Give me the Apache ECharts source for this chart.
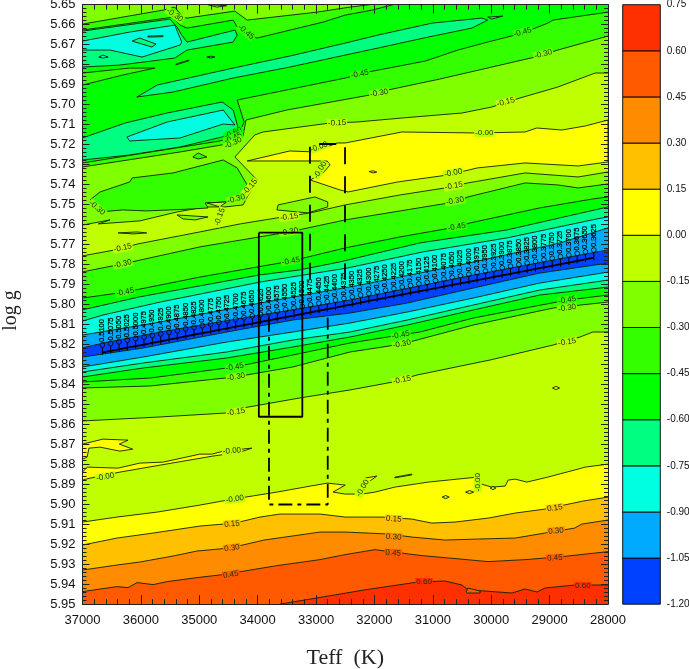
<!DOCTYPE html>
<html>
<head>
<meta charset="utf-8">
<style>html,body{margin:0;padding:0;background:#fff}#main{width:689px;height:669px}</style>
<script src="https://cdn.jsdelivr.net/npm/echarts@6/dist/echarts.min.js"></script>
</head>
<body>
<div id="main"></div>
<script>
// colour levels
var levels = [-1.2,-1.05,-0.9,-0.75,-0.6,-0.45,-0.3,-0.15,0,0.15,0.3,0.45,0.6,0.75];
var bandColors = ['#0040ff','#00aaff','#00ffe0','#00ff80','#00ff00','#33ff00','#80ff00','#bfff00','#ffff00','#ffc000','#ff8c00','#ff5a00','#ff3000'];
var C = {};
levels.slice(0,13).forEach(function(l,i){ C[l.toFixed(2)] = bandColors[i]; });

// contour lines, [Teff, log g]
var top030 = [[37000,5.6597],[35620,5.6527],[35420,5.6512],[35280,5.6562],[35210,5.6567],[34390,5.6532],[34180,5.6577],[32980,5.6537],[32420,5.6512],[32080,5.65]];
var top045 = [[37000,5.6627],[35450,5.6562],[35330,5.6602],[35210,5.6617],[34420,5.6577],[34340,5.6617],[34010,5.6667],[32880,5.6587],[32500,5.6552],[32040,5.6527],[31680,5.65]];
var tealUpper = [[37000,5.6632],[35500,5.6572],[35380,5.6612],[35300,5.6652],[35210,5.6687],[34390,5.6627],[34350,5.6652],[34420,5.6687],[35210,5.6727],[35420,5.6767],[36360,5.6802],[37000,5.6812]];
var cyanUpper = [[37000,5.6682],[36190,5.6637],[35420,5.6602],[35300,5.6687],[35330,5.6702],[35980,5.6762],[36530,5.6727],[37000,5.6727]];
var tealSpot1 = [[36150,5.6682],[36020,5.6667],[35740,5.6697],[35810,5.6712]];
var tealSpot2 = [[35880,5.6657],[35620,5.6655],[35620,5.6660],[35880,5.6662]];
var cyanSpot = [[36720,5.6762],[36650,5.6752],[36560,5.6762],[36650,5.6767]];
var dash1 = [[35400,5.6797],[35180,5.6777],[35180,5.6781],[35400,5.6801]];
var dash2 = [[34870,5.6762],[34800,5.6757],[34730,5.6762],[34800,5.6767]];
var tongue = [[37000,5.6842],[36190,5.6817],[35760,5.6817],[36310,5.6852],[37000,5.6902]];
var tealBand = [[36070,5.6962],[35720,5.6902],[34420,5.6817],[33450,5.6757],[32500,5.6692],[31940,5.6652],[31010,5.6592],[30160,5.6567],[30060,5.6577],[30330,5.6617],[31080,5.6662],[31940,5.6717],[32500,5.6752],[33450,5.6812],[34420,5.6867],[35450,5.6937]];
var tealTip = [[30060,5.6562],[29800,5.6557],[29990,5.6572]];
var tealLower = [[37000,5.7167],[36270,5.7092],[35550,5.7042],[34610,5.6987],[34420,5.7027],[34340,5.7112],[34440,5.7142],[34610,5.7162],[35330,5.7212],[36190,5.7252],[37000,5.7277]];
var cyanLower = [[36240,5.7162],[35550,5.7087],[34590,5.7027],[34390,5.7102],[34590,5.7097],[35330,5.7167],[36190,5.7182]];
var mid045 = [[37000,5.7292],[34650,5.7182],[34440,5.7162],[34300,5.7127],[34230,5.7087],[34270,5.7052],[34350,5.6977],[32500,5.6867],[32110,5.6837],[31130,5.6782],[30570,5.6727],[30060,5.6687],[29460,5.6642],[29030,5.6592],[28940,5.6577],[28000,5.6537]];
var mid030 = [[37000,5.7312],[35330,5.7237],[34420,5.7192],[34250,5.7157],[34200,5.7077],[33500,5.7027],[32080,5.6952],[31770,5.6927],[30880,5.6872],[29990,5.6812],[29250,5.6762],[28860,5.6727],[28000,5.6657]];
var diamond = [[35110,5.7262],[35020,5.7242],[34870,5.7262],[35020,5.7272]];
var mid015 = [[37000,5.7603],[36820,5.7593],[36530,5.7577],[36730,5.7597],[36020,5.7582],[35380,5.7537],[34900,5.7512],[34560,5.7512],[34250,5.7502],[34180,5.7462],[34100,5.7427],[34010,5.7377],[34390,5.7262],[34050,5.7152],[33910,5.7137],[32760,5.7092],[32300,5.7087],[31530,5.7067],[30500,5.7042],[29990,5.7012],[29510,5.6967],[28860,5.6912],[28220,5.6842],[28000,5.6842]];
var yellowCore = [[34180,5.7282],[33450,5.7232],[33020,5.7237],[32640,5.7192],[32500,5.7192],[31530,5.7137],[30240,5.7142],[29420,5.7137],[29220,5.7117],[28790,5.7127],[28390,5.7107],[28000,5.7077],[28000,5.7287],[28510,5.7307],[29420,5.7292],[30240,5.7317],[30740,5.7352],[31600,5.7387],[32450,5.7437],[32590,5.7427],[33100,5.7377],[32880,5.7342],[32760,5.7302],[32810,5.7282],[33100,5.7282]];
var centerIsland = [[36870,5.7477],[36700,5.7437],[36190,5.7387],[36150,5.7367],[35450,5.7342],[34590,5.7277],[34350,5.7317],[34130,5.7427],[34250,5.7462],[34470,5.7487],[34900,5.7492],[34850,5.7517],[35110,5.7522],[35900,5.7532],[36310,5.7527],[36700,5.7537]];
var spotA = [[34870,5.7492],[34530,5.7487],[34650,5.7512]];
var spotB = [[35380,5.7552],[34850,5.7562],[35070,5.7577],[35280,5.7572]];
var spotC = [[36390,5.7642],[36070,5.7637],[35900,5.7642],[36130,5.7647]];
var bump = [[33650,5.7502],[33020,5.7462],[32800,5.7487],[32800,5.7512],[33140,5.7542],[33670,5.7527]];
var up015 = [[37000,5.7757],[36440,5.7727],[36050,5.7697],[34990,5.7637],[34300,5.7597],[33670,5.7567],[33100,5.7542],[32500,5.7502],[31560,5.7452],[30790,5.7417],[30400,5.7392],[29420,5.7342],[28510,5.7362],[28000,5.7337]];
var up030 = [[37000,5.7837],[36310,5.7797],[34990,5.7712],[33460,5.7637],[32500,5.7577],[31560,5.7532],[30620,5.7487],[30400,5.7462],[29420,5.7392],[28860,5.7402],[28510,5.7417],[28000,5.7397]];
var up045 = [[37000,5.7968],[36270,5.7938],[34990,5.7863],[33430,5.7783],[32500,5.7717],[31560,5.7662],[30590,5.7612],[30360,5.7592],[29170,5.7517],[28260,5.7472],[28000,5.7462]];
var up060 = [[37000,5.8027],[36020,5.7962],[33960,5.7852],[33280,5.7827],[32590,5.7787],[31220,5.7692],[29730,5.7627],[28000,5.7512]];
var up075 = [[37000,5.8083],[36650,5.8053],[35670,5.7988],[33960,5.7888],[33220,5.7853],[32470,5.7818],[31170,5.7737],[29730,5.7667],[28190,5.7572],[28000,5.7562]];
var up090 = [[37000,5.8153],[35670,5.8088],[33960,5.7993],[32250,5.7903],[30540,5.7803],[28820,5.7692],[28000,5.7617]];
var up105 = [[37000,5.8218],[36650,5.8193],[35670,5.8138],[33960,5.8053],[33220,5.8018],[32420,5.7978],[30310,5.7853],[28190,5.7737],[28000,5.7727]];
var teffLow = [37000,35960,34530,33400,32420,31440,30310,29170,28000];
var low105 = [5.8263,5.8218,5.8138,5.8078,5.8043,5.7993,5.7918,5.7843,5.7793];
var low090 = [5.8313,5.8263,5.8188,5.8138,5.8093,5.8038,5.7968,5.7893,5.7838];
var low075 = [5.8338,5.8293,5.8238,5.8178,5.8138,5.8078,5.8003,5.7928,5.7878];
var low060 = [5.8363,5.8318,5.8268,5.8213,5.8163,5.8103,5.8028,5.7953,5.7913];
var low045 = [[37000,5.8388],[35840,5.8368],[34390,5.8313],[33400,5.8253],[32420,5.8193],[31560,5.8153],[31220,5.8138],[30310,5.8068],[28700,5.7978],[28000,5.7953]];
var low030 = [[37000,5.8418],[35840,5.8408],[34390,5.8363],[33400,5.8313],[32420,5.8238],[31530,5.8198],[31270,5.8178],[30310,5.8103],[28940,5.8018],[28000,5.7988]];
var low015 = [[37000,5.8583],[35670,5.8563],[34530,5.8543],[34250,5.8518],[33280,5.8468],[32420,5.8428],[31680,5.8388],[31270,5.8353],[30020,5.8278],[28940,5.8203],[28480,5.8163],[28260,5.8138],[28000,5.8138]];
var zero = [[37000,5.9089],[36410,5.9064],[35720,5.9039],[34990,5.9004],[34420,5.8974],[33670,5.8939],[33100,5.8909],[32800,5.8894],[32500,5.8904],[32710,5.8939],[32500,5.8949],[32210,5.8949],[31990,5.8939],[31650,5.8914],[31080,5.8889],[30240,5.8864],[30230,5.8894],[29990,5.8914],[29760,5.8909],[29710,5.8879],[29590,5.8874],[29390,5.8889],[29030,5.8864],[28450,5.8819],[28390,5.8814],[28000,5.8799]];
var pos015 = [[37000,5.9204],[36410,5.9169],[35790,5.9144],[34990,5.9109],[34390,5.9094],[33960,5.9064],[33620,5.9049],[32930,5.9049],[32500,5.9064],[31870,5.9064],[31360,5.9074],[31020,5.9094],[30620,5.9089],[30050,5.9069],[29590,5.9044],[29080,5.9024],[28430,5.8984],[28000,5.8964]];
var pos030 = [[37000,5.9329],[36410,5.9304],[36020,5.9289],[35450,5.9259],[35040,5.9234],[34480,5.9219],[33890,5.9179],[32930,5.9139],[32500,5.9139],[31750,5.9149],[31360,5.9164],[30790,5.9179],[30230,5.9174],[29590,5.9169],[29080,5.9144],[28570,5.9119],[28450,5.9099],[28000,5.9079]];
var pos045 = [[37000,5.9437],[36410,5.9412],[36220,5.9417],[36065,5.9392],[35790,5.9402],[35550,5.9387],[35040,5.9367],[34595,5.9352],[33670,5.9307],[32935,5.9277],[32505,5.9252],[31990,5.9227],[31185,5.9257],[30790,5.9267],[30055,5.9287],[29420,5.9277],[28785,5.9262],[28000,5.9237]];
var pos060 = [[33620,5.95],[32505,5.9445],[32160,5.9428],[31255,5.9389],[30790,5.9384],[30500,5.9404],[30400,5.9428],[29645,5.9444],[29420,5.9424],[29215,5.9439],[29080,5.9419],[28565,5.9404],[28000,5.9404]];
var yellowA = [[37000,5.8699],[36650,5.8674],[36220,5.8679],[36370,5.8699],[36140,5.8724],[36360,5.8734],[36700,5.8714],[36890,5.8719],[36920,5.8764],[37000,5.8774]];
var yellowB = [[37000,5.8839],[36920,5.8814],[36390,5.8819],[36020,5.8794],[35620,5.8789],[34990,5.8749],[34780,5.8749],[34590,5.8734],[34100,5.8719],[34300,5.8739],[34770,5.8759],[35670,5.8804],[36360,5.8839],[36870,5.8869],[37000,5.8879]];
var yellowC = [[31650,5.8864],[31360,5.8849],[31360,5.8853],[31650,5.8868]];
var yellowD = [[32160,5.8869],[31960,5.8859],[32080,5.8884],[32160,5.8899]];
var spotD = [[30840,5.8964],[30780,5.8956],[30720,5.8964],[30780,5.8972]];
var spotE = [[30440,5.8939],[30370,5.8931],[30300,5.8939],[30370,5.8947]];
var spotF = [[30020,5.8919],[29970,5.8911],[29920,5.8919],[29970,5.8927]];
var spotG = [[28950,5.8418],[28890,5.8410],[28830,5.8418],[28890,5.8426]];
var spotH = [[30430,5.9439],[30400,5.9419],[30190,5.9434],[30190,5.9444],[30410,5.9444]];
var spotI = [[34850,5.65],[34530,5.6505],[34700,5.6512]];
var spotJ = [[32090,5.7335],[32025,5.7331],[31960,5.7338],[32025,5.7342]];

// labelled track
var trackTeff = [36660,36517,36375,36232,36089,35947,35804,35661,35519,35376,35233,35091,34948,34805,34663,34520,34377,34235,34092,33949,33807,33664,33521,33379,33236,33094,32951,32808,32666,32523,32380,32238,32095,31952,31810,31667,31524,31382,31239,31096,30954,30811,30668,30526,30383,30240,30098,29955,29812,29670,29527,29384,29242,29099,28956,28814,28671,28528,28386,28243];
var trackLogg = [5.8203,5.8195,5.8187,5.8179,5.8171,5.8163,5.8155,5.8147,5.8139,5.8131,5.8122,5.8114,5.8106,5.8098,5.8090,5.8082,5.8074,5.8066,5.8058,5.8050,5.8042,5.8034,5.8026,5.8018,5.8010,5.8002,5.7994,5.7986,5.7978,5.7970,5.7962,5.7953,5.7945,5.7937,5.7929,5.7921,5.7913,5.7905,5.7897,5.7889,5.7881,5.7873,5.7865,5.7857,5.7849,5.7841,5.7833,5.7825,5.7817,5.7809,5.7801,5.7793,5.7785,5.7777,5.7769,5.7761,5.7753,5.7745,5.7737,5.7728];
var trackText = ['0.5100','0.5075','0.5050','0.5025','0.5000','0.4975','0.4950','0.4925','0.4900','0.4875','0.4850','0.4825','0.4800','0.4775','0.4750','0.4725','0.4700','0.4675','0.4650','0.4625','0.4600','0.4575','0.4550','0.4525','0.4500','0.4475','0.4450','0.4425','0.4400','0.4375','0.4350','0.4325','0.4300','0.4275','0.4250','0.4225','0.4200','0.4175','0.4150','0.4125','0.4100','0.4075','0.4050','0.4025','0.4000','0.3975','0.3950','0.3925','0.3900','0.3875','0.3850','0.3825','0.3800','0.3775','0.3750','0.3725','0.3700','0.3675','0.3650','0.3625'];

// error boxes
var boxSolid = [[33980,5.7641],[33235,5.7641],[33235,5.8562],[33980,5.8562],[33980,5.7641]];
var boxDashDot = [[33806,5.8067],[33806,5.9001],[32800,5.9001],[32800,5.8067]];
var boxDash = [[33104,5.7876],[33104,5.7197],[32504,5.7197],[32504,5.7876]];

// contour labels: Teff, log g, text, angle
var contourLabels = [
  [29460,5.6637,'-0.45',15],[29110,5.6747,'-0.30',15],[32250,5.6847,'-0.45',12],[31920,5.6942,'-0.30',10],[29750,5.6987,'-0.15',15],
  [32640,5.7092,'-0.15',2],[30120,5.7142,'-0.00',0],[30650,5.7342,'-0.00',10],[30640,5.7407,'-0.15',10],[30620,5.7482,'-0.30',10],[30590,5.7612,'-0.45',10],
  [28700,5.7978,'-0.45',10],[28700,5.8018,'-0.30',10],[28700,5.8188,'-0.15',10],[31550,5.8153,'-0.45',12],[31530,5.8198,'-0.30',12],[31530,5.8378,'-0.15',12],
  [34390,5.8313,'-0.45',10],[34370,5.8363,'-0.30',10],[34370,5.8538,'-0.15',10],[36310,5.7717,'-0.15',12],[36310,5.7797,'-0.30',12],[36270,5.7938,'-0.45',12],
  [33460,5.7637,'-0.30',10],[33430,5.7783,'-0.45',10],[33460,5.7562,'-0.15',8],[35420,5.6552,'-0.30',-35],[34200,5.6637,'-0.45',-40],
  [34440,5.8733,'-0.00',5],[36610,5.8863,'-0.00',10],[34390,5.8974,'-0.00',8],[34440,5.9099,'0.15',5],[34440,5.9219,'0.30',8],[34460,5.9352,'0.45',8],
  [31670,5.9074,'0.15',-3],[31670,5.9164,'0.30',-3],[31680,5.9244,'0.45',-3],[31150,5.9389,'0.60',0],[28910,5.9019,'0.15',8],[28890,5.9134,'0.30',5],[28910,5.9269,'0.45',3],[28430,5.9409,'0.60',0],
  [30230,5.8889,'-0.00',90],[32200,5.8919,'-0.00',60],[32950,5.7212,'-0.00',20],[32930,5.7327,'-0.00',60],[34130,5.7412,'-0.15',50],[34370,5.7472,'-0.30',15],[36750,5.7517,'-0.30',-40],[34650,5.7562,'-0.15',70],
  [34420,5.7142,'-0.60',25],[34420,5.7167,'-0.45',25],[34420,5.7192,'-0.30',25]
];

function zipLow(vals){ return teffLow.map(function(t,i){ return [t,vals[i]]; }); }

// paint order, each layer covers what was painted before
var layers = [
  {pts: top030, fill: C['-0.45'], mode: 'below'},
  {pts: top045, fill: C['-0.60'], mode: 'below'},
  {pts: tealUpper, fill: C['-0.75']},
  {pts: cyanUpper, fill: C['-0.90']},
  {pts: tealSpot1, fill: C['-0.75']},
  {pts: tealSpot2, fill: C['-0.75']},
  {pts: cyanSpot, fill: C['-0.90']},
  {pts: dash1, fill: C['-0.75']},
  {pts: dash2, fill: C['-0.75']},
  {pts: tongue, fill: C['-0.45']},
  {pts: tealBand, fill: C['-0.75']},
  {pts: tealTip, fill: C['-0.90']},
  {pts: tealLower, fill: C['-0.75']},
  {pts: cyanLower, fill: C['-0.90']},
  {pts: mid045, fill: C['-0.45'], mode: 'below'},
  {pts: mid030, fill: C['-0.30'], mode: 'below'},
  {pts: diamond, fill: C['-0.45']},
  {pts: mid015, fill: C['-0.15'], mode: 'below'},
  {pts: yellowCore, fill: C['0.00']},
  {pts: centerIsland, fill: C['-0.45']},
  {pts: spotA, fill: C['-0.15']},
  {pts: spotB, fill: C['-0.30']},
  {pts: spotC, fill: C['-0.30']},
  {pts: bump, fill: C['-0.30']},
  {pts: spotJ, fill: C['0.00']},
  {pts: spotI, fill: C['-0.15']},
  {pts: up015, fill: C['-0.30'], mode: 'below'},
  {pts: up030, fill: C['-0.45'], mode: 'below'},
  {pts: up045, fill: C['-0.60'], mode: 'below'},
  {pts: up060, fill: C['-0.75'], mode: 'below'},
  {pts: up075, fill: C['-0.90'], mode: 'below'},
  {pts: up090, fill: C['-1.05'], mode: 'below'},
  {pts: up105, fill: C['-1.20'], mode: 'below'},
  {pts: zipLow(low105), fill: C['-1.05'], mode: 'below'},
  {pts: zipLow(low090), fill: C['-0.90'], mode: 'below'},
  {pts: zipLow(low075), fill: C['-0.75'], mode: 'below'},
  {pts: zipLow(low060), fill: C['-0.60'], mode: 'below'},
  {pts: low045, fill: C['-0.45'], mode: 'below'},
  {pts: low030, fill: C['-0.30'], mode: 'below'},
  {pts: low015, fill: C['-0.15'], mode: 'below'},
  {pts: spotG, fill: C['0.00']},
  {pts: yellowA, fill: C['0.00']},
  {pts: yellowB, fill: C['0.00']},
  {pts: yellowC, fill: C['0.00']},
  {pts: zero, fill: C['0.00'], mode: 'below'},
  {pts: yellowD, fill: C['0.00']},
  {pts: spotD, fill: C['-0.15']},
  {pts: spotE, fill: C['-0.15']},
  {pts: spotF, fill: C['-0.15']},
  {pts: pos015, fill: C['0.15'], mode: 'below'},
  {pts: pos030, fill: C['0.30'], mode: 'below'},
  {pts: pos045, fill: C['0.45'], mode: 'below'},
  {pts: pos060, fill: C['0.60'], mode: 'below'},
  {pts: spotH, fill: C['0.45']}
];

function renderLayer(params, api) {
  var l = layers[params.dataIndex];
  var line = l.pts.map(function(p){ return api.coord(p); });
  var poly = line.slice();
  if (l.mode === 'below') {
    var last = l.pts[l.pts.length-1];
    if (last[0] > 28000) poly.push(api.coord([28000,last[1]]));
    poly.push(api.coord([28000,5.95]));
    poly.push(api.coord([37000,5.95]));
    return {type:'group', children:[
      {type:'polygon', shape:{points:poly}, style:{fill:l.fill, stroke:null}},
      {type:'polyline', shape:{points:line}, style:{fill:null, stroke:'#102000', lineWidth:0.9}}
    ]};
  }
  return {type:'polygon', shape:{points:poly}, style:{fill:l.fill, stroke:'#102000', lineWidth:0.9}};
}

function renderLabel(params, api) {
  var d = contourLabels[params.dataIndex];
  var c = api.coord([d[0],d[1]]);
  var key = d[2] === '-0.00' ? '-0.15' : d[2];
  return {type:'text', x:c[0], y:c[1], rotation:d[3]*Math.PI/180,
    style:{text:d[2], x:0, y:0, align:'center', verticalAlign:'middle', fontSize:8, fontFamily:'Liberation Sans',
      fill:'#1a2a00', backgroundColor:C[key], padding:[0,1]}};
}

function renderTrack(params, api) {
  var i = params.dataIndex;
  var c = api.coord([trackTeff[i],trackLogg[i]]);
  return {type:'group', children:[
    {type:'line', shape:{x1:c[0],y1:c[1]+2.5,x2:c[0],y2:c[1]+10}, style:{stroke:'#000',lineWidth:1}},
    {type:'circle', shape:{cx:c[0],cy:c[1],r:2.4}, style:{fill:null,stroke:'#000',lineWidth:0.8}},
    {type:'text', x:c[0]-0.2, y:c[1]-3, rotation:Math.PI/2,
      style:{text:trackText[i], x:0, y:0, align:'left', verticalAlign:'middle', fontSize:7.5, fontFamily:'Liberation Sans', fill:'#000', stroke:'#000', lineWidth:0.25}}
  ]};
}

function renderTrackLine(params, api) {
  var pts = trackTeff.map(function(t,i){ var c = api.coord([t,trackLogg[i]]); return [c[0],c[1]+7.5]; });
  return {type:'polyline', shape:{points:pts}, style:{fill:null,stroke:'#000',lineWidth:1.8}};
}

function renderBar(params, api) {
  var i = params.dataIndex;
  var a = api.coord([0,levels[i+1]]), b = api.coord([1,levels[i]]);
  return {type:'rect', shape:{x:a[0],y:a[1],width:b[0]-a[0],height:b[1]-a[1]},
    style:{fill:bandColors[i],stroke:'#000',lineWidth:0.9}};
}

var tickFont = {fontFamily:'Liberation Sans', fontSize:13, color:'#111'};
var axisLine = {show:true, onZero:false, lineStyle:{color:'#222',width:1}};

var myChart = echarts.init(document.getElementById('main'), null, {renderer:'canvas'});
var option = {
  animation: false,
  backgroundColor: '#fff',
  grid: [
    {left:82.5, top:4.7, width:525.5, height:599.5, show:true, backgroundColor:C['-0.30'], borderWidth:0, outerBoundsMode:'none'},
    {left:622.7, top:4.7, width:37.6, height:599.5, outerBoundsMode:'none'}
  ],
  xAxis: [
    {type:'value', gridIndex:0, z:10, min:28000, max:37000, interval:1000, inverse:true, position:'bottom',
      axisLine:axisLine, splitLine:{show:false},
      axisTick:{inside:true,length:9,lineStyle:{color:'#222'}},
      minorTick:{show:true,splitNumber:5,length:5,lineStyle:{color:'#222'}},
      axisLabel:Object.assign({margin:10,formatter:function(v){return String(v);},showMinLabel:true,showMaxLabel:true},tickFont),
      name:'Teff  (K)', nameLocation:'middle', nameGap:43,
      nameTextStyle:{fontFamily:'Liberation Serif',fontSize:22,color:'#222'}},
    {type:'value', gridIndex:0, z:10, min:28000, max:37000, interval:1000, inverse:true, position:'top',
      axisLine:axisLine, splitLine:{show:false},
      axisTick:{inside:true,length:9,lineStyle:{color:'#222'}},
      minorTick:{show:true,splitNumber:5,length:5,lineStyle:{color:'#222'}},
      axisLabel:{show:false}},
    {type:'value', gridIndex:1, min:0, max:1, show:false}
  ],
  yAxis: [
    {type:'value', gridIndex:0, z:10, min:5.65, max:5.95, interval:0.01, inverse:true, position:'left',
      axisLine:axisLine, splitLine:{show:false},
      axisTick:{inside:true,length:7,lineStyle:{color:'#222'}},
      minorTick:{show:true,splitNumber:5,length:4,lineStyle:{color:'#222'}},
      axisLabel:Object.assign({margin:7,formatter:function(v){return v.toFixed(2);}},tickFont),
      name:'log g', nameLocation:'middle', nameGap:62, nameRotate:90,
      nameTextStyle:{fontFamily:'Liberation Serif',fontSize:20,color:'#222',padding:[0,12,0,0]}},
    {type:'value', gridIndex:0, z:10, min:5.65, max:5.95, interval:0.01, inverse:true, position:'right',
      axisLine:axisLine, splitLine:{show:false},
      axisTick:{inside:true,length:7,lineStyle:{color:'#222'}},
      minorTick:{show:true,splitNumber:5,length:4,lineStyle:{color:'#222'}},
      axisLabel:{show:false}},
    {type:'value', gridIndex:1, min:-1.2, max:0.75, interval:0.15, position:'right',
      axisLine:{show:false}, axisTick:{show:false}, splitLine:{show:false},
      axisLabel:{margin:6.5,fontFamily:'Liberation Sans',fontSize:10,color:'#111',
        formatter:function(v){return v.toFixed(2);}}}
  ],
  series: [
    {type:'custom', xAxisIndex:0, yAxisIndex:0, clip:true, silent:true, z:1,
      data:layers.map(function(l,i){return [i];}), encode:{x:-1,y:-1}, renderItem:renderLayer},
    {type:'custom', xAxisIndex:0, yAxisIndex:0, clip:true, silent:true, z:2,
      data:contourLabels.map(function(l,i){return [i];}), encode:{x:-1,y:-1}, renderItem:renderLabel},
    {type:'custom', xAxisIndex:0, yAxisIndex:0, silent:true, z:3,
      data:[[0]], encode:{x:-1,y:-1}, renderItem:renderTrackLine},
    {type:'custom', xAxisIndex:0, yAxisIndex:0, silent:true, z:3,
      data:trackTeff.map(function(t,i){return [i];}), encode:{x:-1,y:-1}, renderItem:renderTrack},
    {type:'line', xAxisIndex:0, yAxisIndex:0, data:boxSolid, showSymbol:false, silent:true, z:4,
      lineStyle:{color:'#000',width:1.8}},
    {type:'line', xAxisIndex:0, yAxisIndex:0, data:boxDashDot, showSymbol:false, silent:true, z:4,
      lineStyle:{color:'#000',width:1.8,type:[14,5,4,5]}},
    {type:'line', xAxisIndex:0, yAxisIndex:0, data:boxDash, showSymbol:false, silent:true, z:4,
      lineStyle:{color:'#000',width:1.8,type:[17,12]}},
    {type:'custom', xAxisIndex:2, yAxisIndex:2, silent:true,
      data:bandColors.map(function(c,i){return [i];}), encode:{x:-1,y:-1}, renderItem:renderBar}
  ]
};
myChart.setOption(option);
window.onresize = function () { myChart.resize(); };
</script>
</body>
</html>
